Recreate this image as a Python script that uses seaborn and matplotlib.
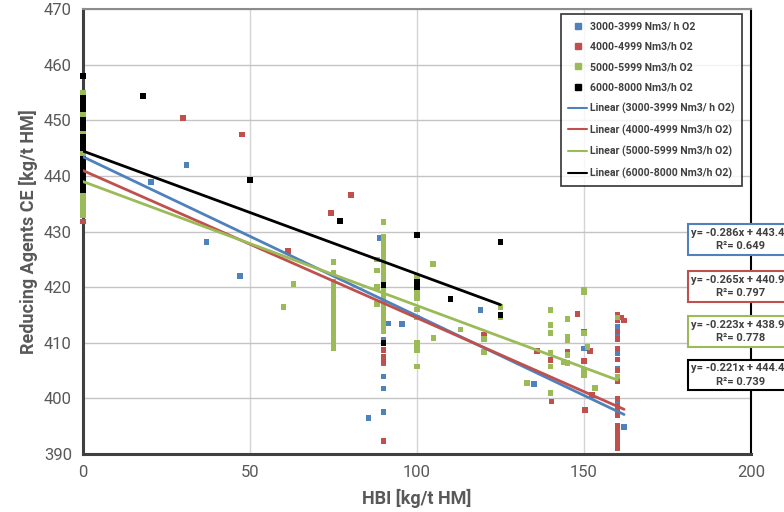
import numpy as np
import pandas as pd
import seaborn as sns
import matplotlib.pyplot as plt
from matplotlib.lines import Line2D

# ---------------------------
# Data
# ---------------------------
groups = ["3000-3999 Nm3/ h O2", "4000-4999 Nm3/h O2", "5000-5999 Nm3/h O2", "6000-8000 Nm3/h O2"]
colors = ["#4F81BD", "#C0504D", "#9BBB59", "#000000"]

blue_x = [0, 0, 0, 20.4, 31, 37, 47, 75, 89, 90, 90, 90, 90, 90, 90, 90, 90, 85.5, 91.5, 95.5,
          119, 135, 150, 160, 160, 160, 160, 160, 160, 160, 160, 162]
blue_y = [452, 451.5, 443, 438.9, 442, 428.1, 422, 420.8, 428.8, 417, 415, 413.5, 410.5, 406.4, 403.9, 401.8, 397.6,
          396.5, 413.5, 413.4, 415.9, 402.6, 409, 414, 412.8, 411.5, 409, 408.2, 405.3, 399, 397.4, 394.9]

red_x = [0, 0, 0, 0, 0, 0, 0, 29.9, 47.6, 61.4, 74.3, 80.2, 75, 75, 88, 90, 90, 90, 90, 90, 90, 90, 90,
         120, 136, 140, 140.3, 145, 148, 150, 150, 150.3, 151.8, 152.4,
         160, 160, 160, 160, 160, 160, 160, 160, 160, 160, 160, 160, 160, 160, 160, 160, 160, 160, 160, 161, 162]
red_y = [453, 441, 440.5, 436, 435.4, 434.2, 431.8, 450.4, 447.4, 426.5, 433.3, 436.6, 418, 416.5, 420, 424.5, 417, 412,
         410, 408.7, 407.4, 406.5, 392.3,
         411.5, 408.5, 406.9, 399.4, 408.3, 415.2, 406.7, 412, 397.9, 408.5, 400.6,
         415, 414, 412, 410.7, 409, 407, 405, 403, 400, 398.5, 398, 397, 395, 394, 393.5, 393, 392, 391.5, 391, 414.5, 414]

green_x = [0] * 23 + [60, 63] + [75] * 15 + [88, 88, 88, 88] + [90] * 19 + [100] * 10 + \
          [104.8, 105, 113, 120, 120, 125, 125, 133, 140, 140, 140, 140, 140, 140,
           145, 145, 145, 145, 145, 143.8, 150, 150, 150, 150, 150, 151, 153.3, 160, 160]
green_y = [455, 454, 453, 451, 450, 449, 448, 447, 446, 445, 444.5, 444, 443, 442, 441, 440, 439, 438, 437, 436, 435, 434, 433,
           416.4, 420.6,
           424.5, 422.5, 421, 420, 419, 418, 417, 416, 415, 414, 413, 412, 411, 410, 409,
           425, 423, 420, 417,
           431.7, 429, 428, 427, 426, 425, 424, 423, 422, 421, 420, 419, 418, 417, 416, 415, 414, 413, 412,
           421.8, 420, 419, 418, 416, 414.5, 410, 409.5, 408.7, 405.7,
           424.2, 410.9, 412.4, 410.7, 408.3, 416.4, 414.5, 402.8, 415.9, 413.2, 411.8, 408.2, 405.7, 401,
           414.3, 411, 410.5, 407.8, 406.4, 406.5, 419.1, 419.5, 411.8, 405.1, 404.2, 409.2, 401.9, 414.5, 403.9]

black_x = [0] * 22 + [18, 50, 77, 90, 90, 100, 100, 100, 100, 110, 125, 125]
black_y = [458, 454, 453.5, 453, 452, 450, 449.5, 449, 448.5, 447, 446.5, 446, 445, 443, 442, 441.5, 441, 440, 439.5,
           439, 438, 437.5,
           454.4, 439.3, 431.9, 420.4, 410, 429.4, 421, 420.5, 420, 417.9, 428.1, 415]

# Linear trend lines (from the chart's equations)
slopes = [-0.286, -0.265, -0.223, -0.221]
intercepts = [443.43, 440.96, 438.98, 444.46]
x_end = [162, 162, 160, 125]
r2 = [0.649, 0.797, 0.778, 0.739]

# ---------------------------
# Build tables
# ---------------------------
xs = [blue_x, red_x, green_x, black_x]
ys = [blue_y, red_y, green_y, black_y]
pts = pd.concat([pd.DataFrame({"HBI": x, "CE": y, "group": g}) for x, y, g in zip(xs, ys, groups)],
                ignore_index=True)

lines = []
for g, m, b, xe in zip(groups, slopes, intercepts, x_end):
    xx = np.array([0, xe])
    lines.append(pd.DataFrame({"HBI": xx, "CE": m * xx + b, "group": g}))
lines = pd.concat(lines, ignore_index=True)

# ---------------------------
# Plot
# ---------------------------
sns.set_theme(style="white")
plt.rcParams["font.family"] = ["Roboto", "DejaVu Sans"]

fig = plt.figure(figsize=(7.84, 5.12), dpi=100)
ax = fig.add_axes([83 / 784, 58 / 512, 668 / 784, 445 / 512])

pal = dict(zip(groups, colors))
sns.scatterplot(data=pts, x="HBI", y="CE", hue="group", hue_order=groups, palette=pal,
                marker="s", s=16, linewidth=0, legend=False, ax=ax, zorder=3, clip_on=False)
sns.lineplot(data=lines, x="HBI", y="CE", hue="group", hue_order=groups, palette=pal,
             linewidth=2, estimator=None, legend=False, ax=ax, zorder=4)

ax.set_xlim(0, 200)
ax.set_ylim(390, 470)
ax.set_xticks(range(0, 201, 50))
ax.set_yticks(range(390, 471, 10))
ax.grid(True, axis="y", color="#c4c4c4", lw=1)
ax.grid(True, axis="x", color="#d4d4d4", lw=1)
ax.set_axisbelow(True)
ax.tick_params(length=0, labelsize=12, labelcolor="#595959", pad=8)

for s in ["left", "bottom"]:
    ax.spines[s].set_color("#404040")
    ax.spines[s].set_linewidth(2.2)
ax.spines["top"].set_color("#8c8c8c")
ax.spines["top"].set_linewidth(1.5)
ax.spines["right"].set_color("#000000")
ax.spines["right"].set_linewidth(1.5)

ax.set_xlabel("HBI [kg/t HM]", fontsize=13, fontweight="bold", color="#595959")
ax.set_ylabel("Reducing Agents CE [kg/t HM]", fontsize=13, fontweight="bold", color="#595959")
ax.xaxis.set_label_coords(0.5, -0.078)
ax.yaxis.set_label_coords(-0.068, 0.5)

# Legend
handles = [Line2D([], [], marker="s", ls="none", color=c, markersize=4.5) for c in colors]
handles += [Line2D([], [], color=c, lw=1.5) for c in colors]
labels = groups + ["Linear (%s)" % g for g in groups]
leg = fig.legend(handles, labels, loc="upper left", bbox_to_anchor=(561 / 784, 1 - 14 / 512),
                 prop={"weight": "bold", "size": 7.6}, frameon=True, fancybox=False,
                 borderaxespad=0, handlelength=1.8, handletextpad=0.2, labelspacing=0.98,
                 borderpad=0.7)
leg.get_frame().set_edgecolor("black")
leg.get_frame().set_linewidth(1.2)
for t in leg.get_texts():
    t.set_color("#404040")

# Equation boxes
box_y = [239.5, 286.5, 331.5, 375]
for c, m, b, r, yb in zip(colors, slopes, intercepts, r2, box_y):
    txt = "y= %.3fx + %.2f\nR\u00b2= %.3f" % (m, b, r)
    fig.text(691 / 784, 1 - yb / 512, txt, ha="left", va="center", multialignment="center",
             fontsize=8, fontweight="bold", color="#404040", linespacing=1.45,
             bbox=dict(boxstyle="square,pad=0.3", fc="white", ec=c, lw=1.5))

plt.savefig("out.png", dpi=100)
